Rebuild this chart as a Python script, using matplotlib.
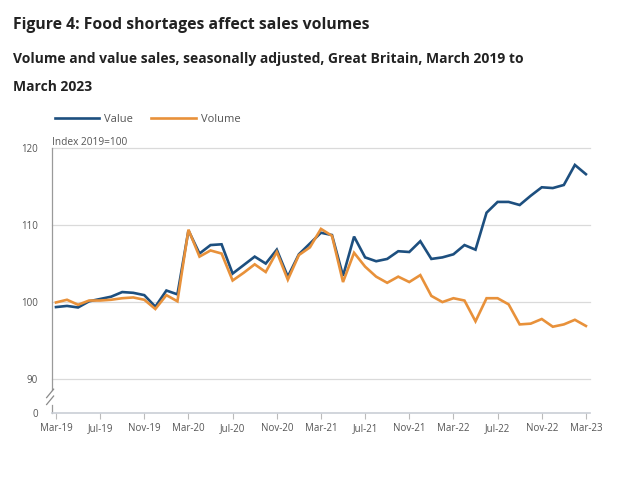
import numpy as np
import matplotlib.pyplot as plt
from matplotlib.lines import Line2D

# ===== data (index 2019=100), monthly Mar-19 .. Mar-23 =====
value = [99.35, 99.5, 99.3, 100.1, 100.4, 100.7, 101.3, 101.2, 100.9, 99.4, 101.5, 101.0,
         109.3, 106.3, 107.4, 107.5, 103.7, 104.8, 105.9, 105.0, 106.8, 103.3, 106.2, 107.6,
         109.0, 108.7, 103.4, 108.5, 105.8, 105.3, 105.6, 106.6, 106.5, 107.9, 105.6, 105.8,
         106.2, 107.4, 106.8, 111.6, 113.0, 113.0, 112.6, 113.8, 114.9, 114.8, 115.2, 117.8,
         116.6]
volume = [99.95, 100.3, 99.65, 100.2, 100.2, 100.3, 100.5, 100.6, 100.3, 99.1, 100.9, 100.1,
          109.4, 105.9, 106.7, 106.3, 102.8, 103.8, 104.9, 103.9, 106.5, 102.9, 106.1, 107.1,
          109.5, 108.6, 102.6, 106.4, 104.6, 103.3, 102.5, 103.3, 102.6, 103.5, 100.8, 100.0,
          100.5, 100.2, 97.5, 100.5, 100.5, 99.7, 97.1, 97.2, 97.8, 96.8, 97.1, 97.7,
          96.9]
tick_labels = ["Mar-19", "Jul-19", "Nov-19", "Mar-20", "Jul-20", "Nov-20", "Mar-21",
               "Jul-21", "Nov-21", "Mar-22", "Jul-22", "Nov-22", "Mar-23"]
y_grid = [90, 100, 110, 120]

BLUE = "#1d4f7f"
ORANGE = "#e8913a"
GREY = "#555555"

plt.rcParams["font.family"] = ["Open Sans", "DejaVu Sans"]

fig = plt.figure(figsize=(6.34, 4.79), dpi=100)
W, H = 634, 479
ax = fig.add_axes([52 / W, 1 - 413 / H, (590 - 52) / W, (413 - 148) / H])

x = np.arange(len(value))
ax.plot(x, value, color=BLUE, lw=1.9, label="Value", solid_joinstyle="miter", zorder=3)
ax.plot(x, volume, color=ORANGE, lw=1.9, label="Volume", solid_joinstyle="miter", zorder=3)

# broken axis: bottom of axes stands for 0
y_bottom = 85.6
ax.set_ylim(y_bottom, 120)
ax.set_xlim(-0.36, 48.37)

for g in y_grid:
    ax.axhline(g, color="#dadada", lw=0.9, zorder=1, clip_on=False)

ax.set_yticks([y_bottom] + y_grid)
ax.set_yticklabels(["0"] + [str(g) for g in y_grid])
ax.tick_params(axis="y", length=0, pad=10, labelsize=7, labelcolor=GREY)

ax.set_xticks(np.arange(0, len(value), 4))
ax.set_xticklabels(tick_labels)
ax.tick_params(axis="x", length=4, width=0.8, color="#bbbbbb", pad=3,
               labelsize=7, labelcolor=GREY)

for s in ["top", "right", "left"]:
    ax.spines[s].set_visible(False)
ax.spines["bottom"].set_color("#c9ced6")
ax.spines["bottom"].set_linewidth(1.2)

# left axis line with break marks
tr = ax.transAxes
ax.add_line(Line2D([0, 0], [1, 0.088], transform=tr, color="#9a9a9a", lw=0.9, clip_on=False))
ax.add_line(Line2D([0, 0], [0.03, 0], transform=tr, color="#9a9a9a", lw=0.9, clip_on=False))
for y0 in (0.032, 0.058):
    ax.add_line(Line2D([-0.010, 0.003], [y0, y0 + 0.032], transform=tr,
                       color="#8a8a8a", lw=0.9, clip_on=False))

# titles
fig.text(13 / W, 1 - 29 / H, "Figure 4: Food shortages affect sales volumes",
         fontsize=11.3, fontweight="bold", color="#222222", va="baseline")
fig.text(13 / W, 1 - 63 / H,
         "Volume and value sales, seasonally adjusted, Great Britain, March 2019 to",
         fontsize=10, fontweight="bold", color="#222222", va="baseline")
fig.text(13 / W, 1 - 91 / H, "March 2023",
         fontsize=10, fontweight="bold", color="#222222", va="baseline")

fig.text(52 / W, 1 - 145 / H, "Index 2019=100", fontsize=7.3, color=GREY, va="baseline")

ax.legend(loc="center left", bbox_to_anchor=(55 / W, 1 - 119 / H),
          bbox_transform=fig.transFigure, ncol=2, frameon=False,
          fontsize=8, handlelength=4.0, handletextpad=0.45, columnspacing=1.6,
          borderpad=0, borderaxespad=0, labelcolor=GREY)

fig.savefig("out.png", dpi=100, facecolor="white")
